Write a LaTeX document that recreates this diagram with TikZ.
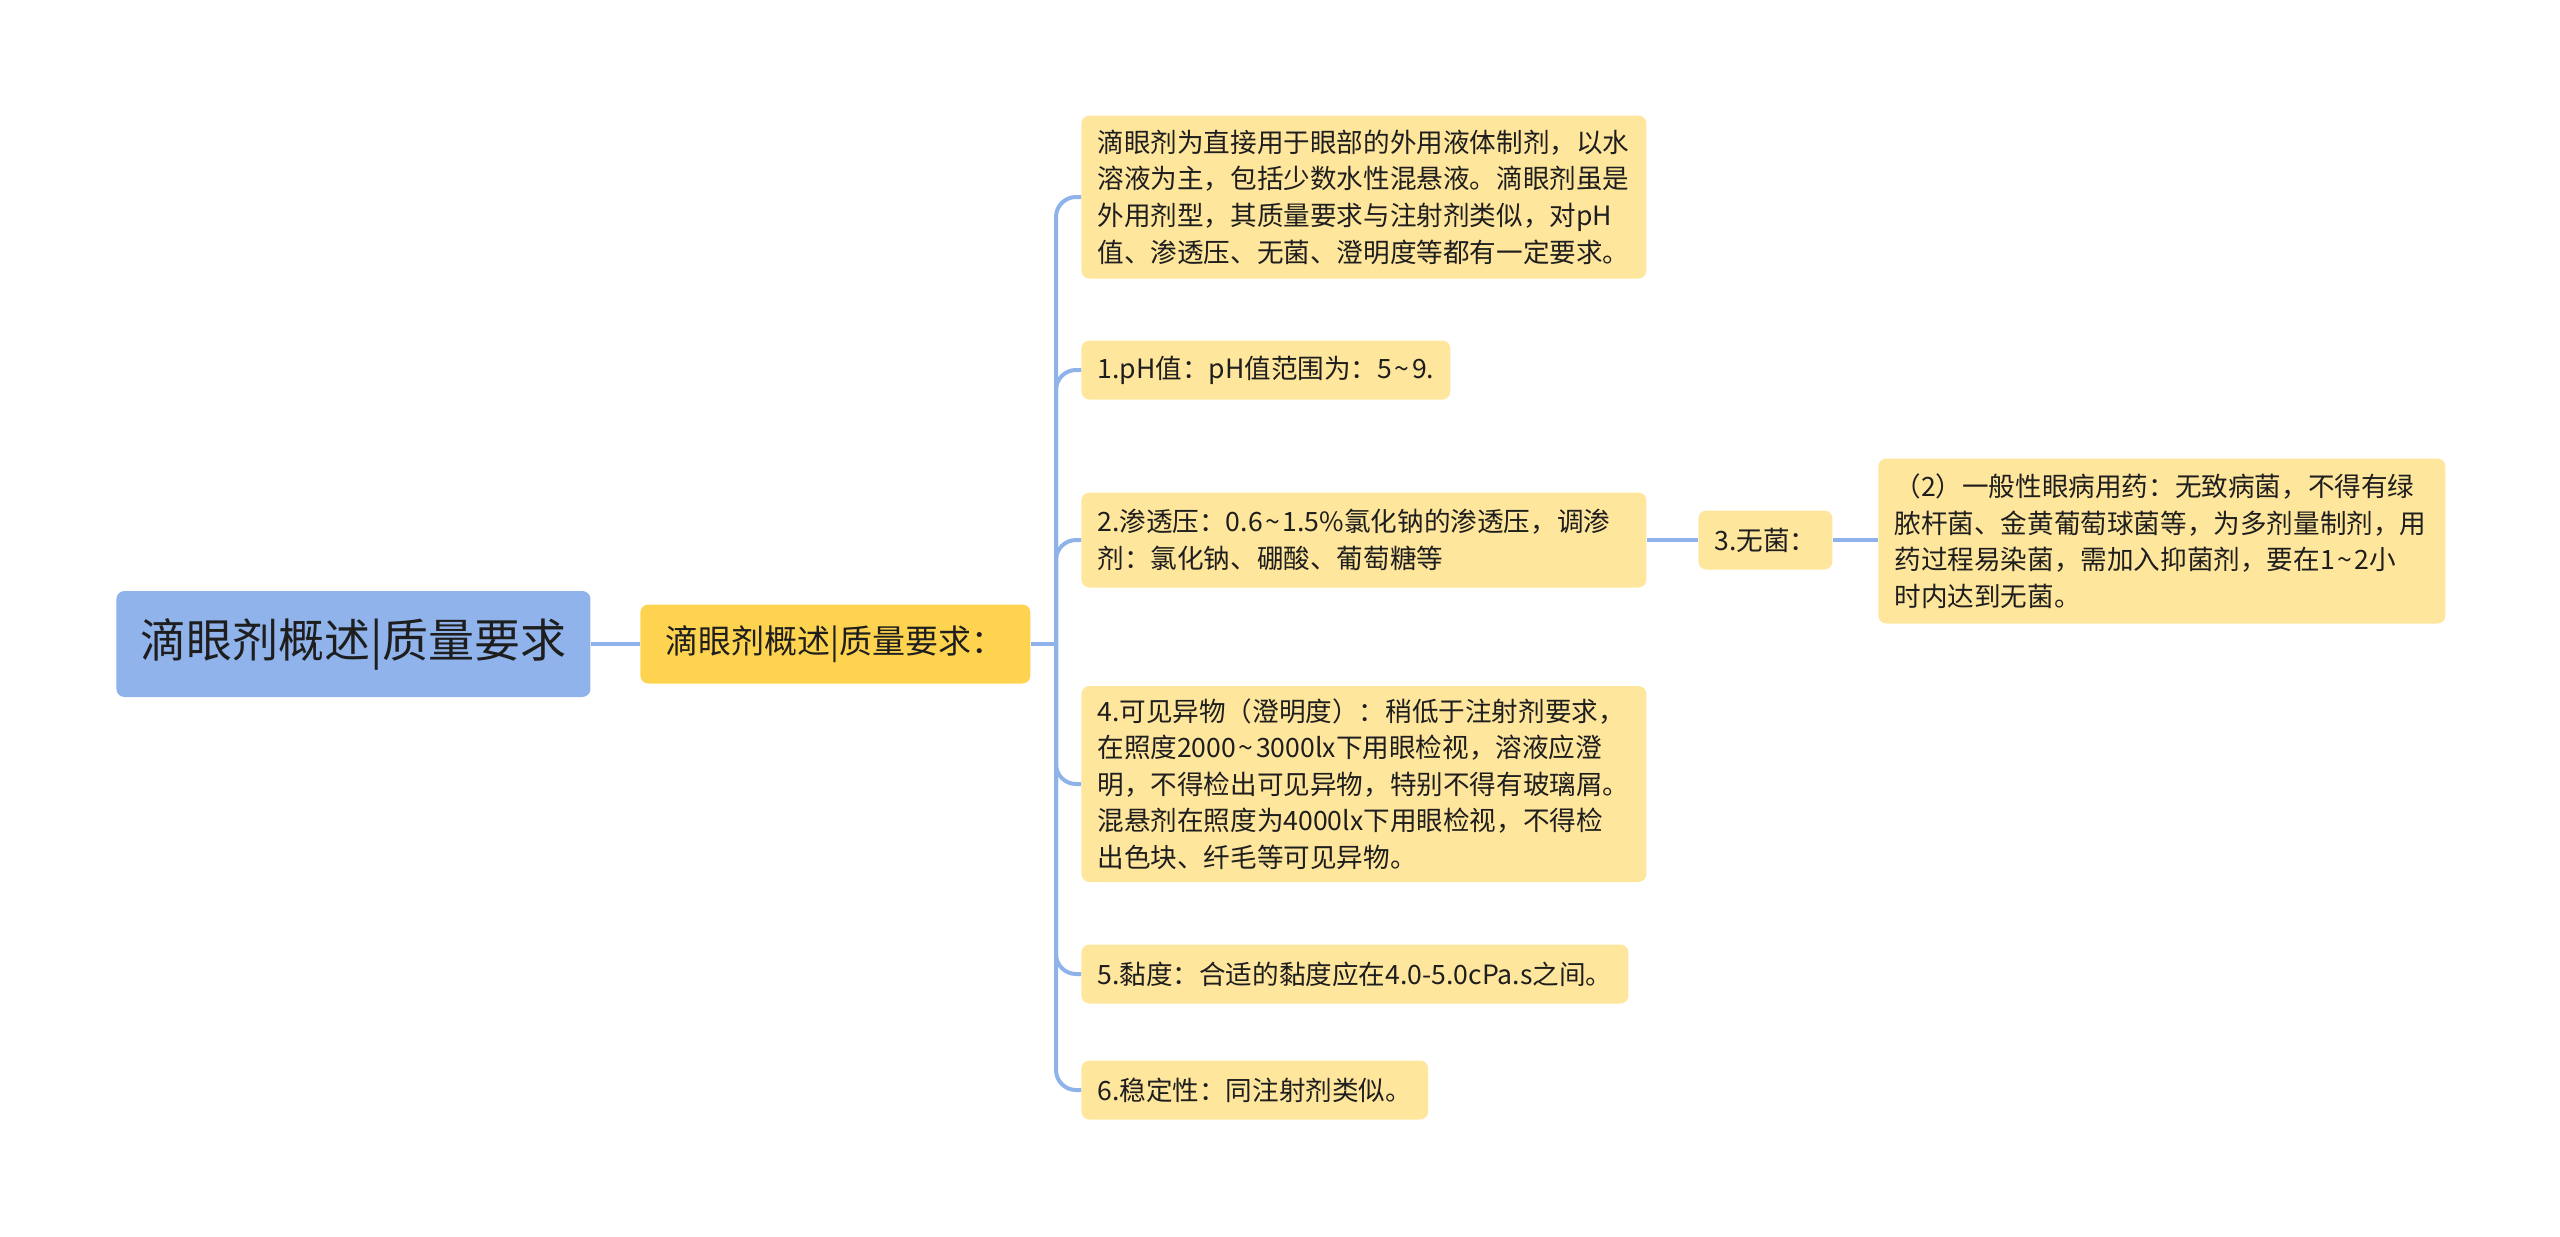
\documentclass[tikz,border=0pt]{standalone}
\usepackage{fontspec}
\newfontfamily\cjk{Noto Sans CJK SC}
\usetikzlibrary{calc}

\definecolor{rootblue}{HTML}{8FB3EA}
\definecolor{topgold}{HTML}{FDD34F}
\definecolor{leafyellow}{HTML}{FFE69D}
\definecolor{linkblue}{HTML}{8EB2EA}
\definecolor{inkgray}{HTML}{1E1E1E}

\newcommand\wave{\hbox to 0.75em{\hss\textasciitilde\hss}}

\tikzset{
  rootbox/.style={fill=rootblue, rounded corners=4pt, anchor=west, inner xsep=8pt,
    minimum width=237pt, minimum height=53pt, font=\cjk\fontsize{23}{28}\selectfont, text=inkgray},
  topbox/.style={fill=topgold, rounded corners=4pt, anchor=west, inner xsep=8pt,
    minimum width=195pt, minimum height=39.5pt, font=\cjk\fontsize{16.5}{20}\selectfont, text=inkgray},
  leafbox/.style={fill=leafyellow, rounded corners=4pt, anchor=west, inner xsep=8pt,
    minimum height=29.5pt, align=left, font=\cjk\fontsize{13.3}{18.3}\selectfont, text=inkgray},
  widebox/.style={leafbox, text width=266.5pt},
  link/.style={draw=linkblue, line width=2pt, rounded corners=10pt}
}

\begin{document}
\begin{tikzpicture}[x=0.5pt, y=-0.5pt]
  \useasboundingbox (0,0) rectangle (2560,1237);

  \node[rootbox] (root) at (116,644) {滴眼剂概述|质量要求};
  \node[topbox] (req) at (640,644) {滴眼剂概述|质量要求：};
  \coordinate (fork) at (1056,644);

  \node[widebox, minimum height=81.5pt] (intro) at (1081,197) {滴眼剂为直接用于眼部的外用液体制剂，以水\\溶液为主，包括少数水性混悬液。滴眼剂虽是\\外用剂型，其质量要求与注射剂类似，对pH\\值、渗透压、无菌、澄明度等都有一定要求。};
  \node[leafbox] (ph) at (1081,370) {1.pH值：pH值范围为：5\wave 9.};
  \node[widebox, minimum height=47.5pt] (osmo) at (1081,540) {2.渗透压：0.6\wave 1.5\%氯化钠的渗透压，调渗\\剂：氯化钠、硼酸、葡萄糖等};
  \node[widebox, minimum height=98pt] (clarity) at (1081,784) {4.可见异物（澄明度）：稍低于注射剂要求，\\在照度2000\wave 3000lx下用眼检视，溶液应澄\\明，不得检出可见异物，特别不得有玻璃屑。\\混悬剂在照度为4000lx下用眼检视，不得检\\出色块、纤毛等可见异物。};
  \node[leafbox] (visc) at (1081,974) {5.黏度：合适的黏度应在4.0-5.0cPa.s之间。};
  \node[leafbox] (stab) at (1081,1090) {6.稳定性：同注射剂类似。};

  \node[leafbox] (sterile) at (1698,540) {3.无菌：};
  \node[widebox, text width=267.5pt, minimum height=82.5pt] (eyedrug) at (1878,541) {（2）一般性眼病用药：无致病菌，不得有绿\\脓杆菌、金黄葡萄球菌等，为多剂量制剂，用\\药过程易染菌，需加入抑菌剂，要在1\wave 2小\\时内达到无菌。};

  % connectors
  \draw[link] (root.east) -- (req.west);
  \draw[link] (req.east) -- (fork);
  \foreach \leaf in {intro, ph, osmo, clarity, visc, stab}
    \draw[link] (fork) |- (\leaf.west);
  \draw[link] (osmo.east) -- (sterile.west);
  \draw[link] (sterile.east) -- (eyedrug.west |- sterile.east);
\end{tikzpicture}
\end{document}
